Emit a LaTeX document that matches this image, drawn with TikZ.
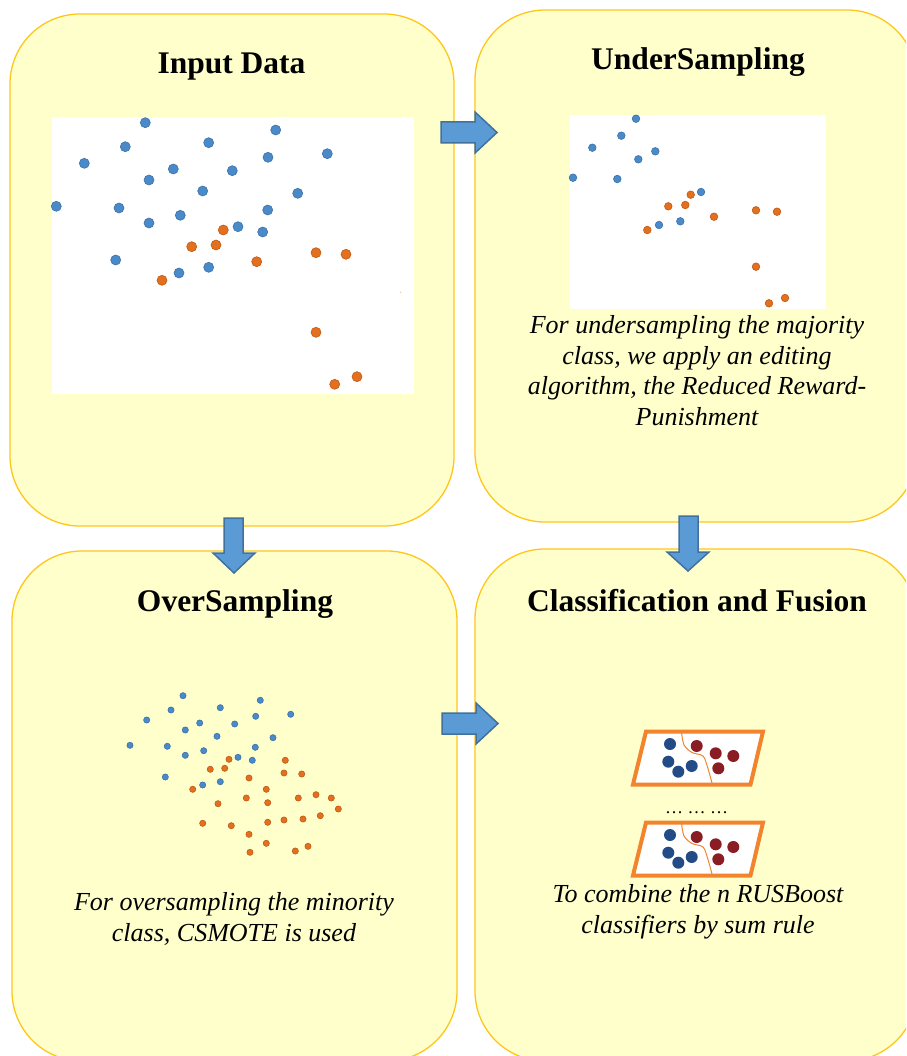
\documentclass[tikz,border=0pt]{standalone}
\usepackage{fontspec}
\setmainfont{Liberation Serif}
\definecolor{boxfill}{HTML}{FFFFCC}
\definecolor{boxline}{HTML}{FFC61A}
\definecolor{arrowfill}{HTML}{5B9BD5}
\definecolor{arrowline}{HTML}{41719C}
\definecolor{dotblue}{HTML}{4A8AC9}
\definecolor{dotblueline}{HTML}{3A72AA}
\definecolor{dotorange}{HTML}{E3701E}
\definecolor{dotorangeline}{HTML}{BF5A14}
\definecolor{iconorange}{HTML}{F2842E}
\definecolor{iconnavy}{HTML}{234C86}
\definecolor{iconred}{HTML}{8A1D24}
\begin{document}
\begin{tikzpicture}[x=1pt,y=-1pt,
  panel/.style={draw=boxline, fill=boxfill, line width=1.3pt, rounded corners=70pt, inner sep=0pt},
  ttl/.style={font=\fontsize{31.5}{36}\selectfont\bfseries, anchor=base, inner sep=0pt},
  body/.style={font=\fontsize{26}{30.5}\selectfont\itshape, align=center, anchor=base, inner sep=0pt},
  plotbg/.style={fill=white, inner sep=0pt},
  barrow/.style={fill=arrowfill, draw=arrowline, line width=1.5pt, line join=miter},
  bdot/.style={fill=dotblue, draw=dotblueline, line width=0.6pt},
  odot/.style={fill=dotorange, draw=dotorangeline, line width=0.6pt},
  iconframe/.style={draw=iconorange, line width=4pt, fill=white, line join=miter},
]
\useasboundingbox (0,0) rectangle (906,1056);
\clip (0,0) rectangle (906,1056);

% panels
\node[panel, minimum width=444pt, minimum height=512pt] (inp) at (232,270) {};
\node[panel, minimum width=442pt, minimum height=512pt] (und) at (696,266) {};
\node[panel, minimum width=445pt, minimum height=510pt] (ovr) at (234.5,806) {};
\node[panel, minimum width=442pt, minimum height=512pt] (cls) at (696,805) {};

% titles
\node[ttl] (tinp) at (231.5,73.5) {Input Data};
\node[ttl] (tund) at (698,70) {UnderSampling};
\node[ttl] (tovr) at (235,611) {OverSampling};
\node[ttl] (tcls) at (697,611) {Classification and Fusion};

% block arrows
\draw[barrow] (441,122) -- (475,122) -- (475,112) -- (497,132.5) -- (475,153) -- (475,143) -- (441,143) -- cycle;
\draw[barrow] (442,713) -- (476,713) -- (476,703) -- (498,723.5) -- (476,744) -- (476,734) -- (442,734) -- cycle;
\draw[barrow] (224,518) -- (243,518) -- (243,553) -- (255,553) -- (234,573) -- (213,553) -- (224,553) -- cycle;
\draw[barrow] (679,516) -- (698,516) -- (698,552) -- (709,552) -- (688,571) -- (667,552) -- (679,552) -- cycle;

% input data plot
\node[plotbg, minimum width=362pt, minimum height=277pt] (plot1) at (233,255.5) {};
\foreach \x/\y in {145.3/122.7, 275.7/130, 125.3/146.7, 208.7/142.7, 84.3/163.3, 327.3/153.7, 268/157.3, 173.3/169, 232.3/170.7, 149/180, 202.7/191, 297.7/193.3, 56.3/206.3, 119/208, 267.7/210, 180.3/215.3, 149/223, 238/226.7, 262.7/232, 115.7/260, 179/273, 208.7/267.3}
  \filldraw[bdot] (\x,\y) circle (5pt);
\foreach \x/\y in {223.3/230, 191.7/246.7, 216/245, 316/252.7, 346/254.3, 256.7/261.7, 162/280.3, 316/332.3, 357/376.7, 334.7/384.3}
  \filldraw[odot] (\x,\y) circle (5pt);
\fill[dotorange!40] (400.7,292.3) circle (0.8pt);

% undersampling plot
\node[plotbg, minimum width=256pt, minimum height=194pt] (plot2) at (697.5,212) {};
\foreach \x/\y in {636/118.7, 621.3/135.7, 592.3/147.7, 655.3/151.3, 638.3/159.3, 573/177.7, 617.3/179, 701/192, 659/225, 680.3/221.3}
  \filldraw[bdot] (\x,\y) circle (3.8pt);
\foreach \x/\y in {690.7/194.7, 668.3/206.3, 685.3/205, 756/210.3, 777/211.7, 714/216.7, 647.3/230, 756/266.7, 785/298, 769/303.3}
  \filldraw[odot] (\x,\y) circle (3.8pt);
\node[body] (tx1) at (697,425) {For undersampling the majority\\class, we apply an editing\\algorithm, the Reduced Reward-\\Punishment};

% oversampling plot
\foreach \x/\y in {183/695.7, 260.3/700.3, 220.3/707.7, 171/710, 290.7/714.3, 255.7/716.3, 146.7/720, 199.7/723, 234.7/724, 185.3/730, 217/736.3, 273/737.7, 130/745.3, 167.3/746.3, 255.3/747.3, 203.7/750.7, 185.3/755.3, 238/757.3, 252.3/760.3, 165.3/777, 220.3/781.7, 202.7/785}
  \filldraw[bdot] (\x,\y) circle (3.1pt);
\foreach \x/\y in {229/759.3, 285.3/760.3, 210.3/769.3, 224.7/768.3, 284/773, 301.7/774, 249/778, 192.7/789.3, 266.3/789.3, 246.3/798, 298.3/798, 316/794.7, 331.3/798, 218/803.7, 267.7/802.7, 338.3/809, 320.3/815.7, 303/819, 284/820, 267.7/822.3, 202.7/823.3, 231.3/825.7, 249/834.3, 266.3/843.3, 308/846.3, 295.3/851, 250/852.3}
  \filldraw[odot] (\x,\y) circle (3.1pt);
\node[body] (tx2) at (234,941) {For oversampling the minority\\class, CSMOTE is used};

% classifier icons
\foreach \dy/\nm in {0/icA, 91/icB} {
  \begin{scope}[shift={(0,\dy)}]
    \draw[iconframe] (646,731.5) -- (763,731.5) -- (750.5,784.5) -- (633,784.5) -- cycle;
    \draw[iconorange, line width=1pt] plot[smooth] coordinates {(681.5,732) (684,745) (692,752.5) (703,756) (707.5,767) (712,783)};
    \foreach \x/\y in {670/744, 668.3/761.7, 678.3/771.7, 691.7/766}
      \fill[iconnavy] (\x,\y) circle (6pt);
    \foreach \x/\y in {696.7/746, 715.7/753.3, 733.3/756, 718.3/768.3}
      \fill[iconred] (\x,\y) circle (6pt);
    \coordinate (\nm) at (698,758);
  \end{scope}
}
\node[font=\fontsize{18}{20}\selectfont, anchor=base, inner sep=0pt] (ell) at (696.5,813) {… … …};
\node[body] (tx3) at (698,933) {To combine the n RUSBoost\\classifiers by sum rule};
\end{tikzpicture}
\end{document}
